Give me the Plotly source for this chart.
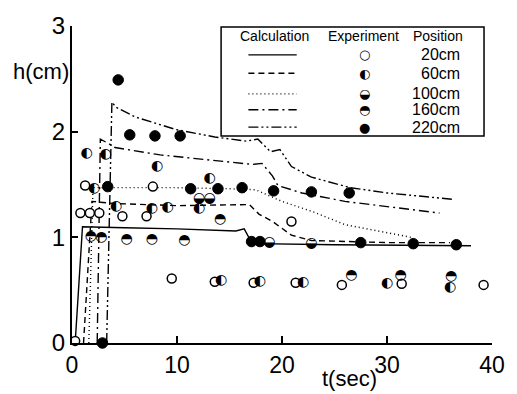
import plotly.graph_objects as go

# ---------------- data ----------------
positions = ["20cm", "60cm", "100cm", "160cm", "220cm"]

calc20_t = [0.3, 1.0, 5, 10, 15.6, 16.4, 17.0, 17.6, 25, 38]
calc20_h = [0, 1.10, 1.09, 1.08, 1.06, 1.08, 0.97, 0.94, 0.93, 0.92]

calc60_t = [1.1, 1.9, 4, 10, 16.9, 17.8, 19.1, 20.9, 22.8, 30, 36]
calc60_h = [0, 1.34, 1.32, 1.30, 1.31, 1.22, 1.15, 1.02, 0.97, 0.95, 0.95]

calc100_t = [1.6, 2.0, 5, 10, 15, 17.5, 20, 23, 26, 29.5, 32.3]
calc100_h = [0, 1.47, 1.47, 1.47, 1.46, 1.45, 1.34, 1.24, 1.12, 1.05, 1.0]

calc160_t = [2.4, 2.7, 3.6, 4.1, 8.4, 13.6, 17.2, 18.1, 19.1, 19.6, 21.9, 26, 30, 35]
calc160_h = [0, 1.93, 1.88, 1.85, 1.78, 1.73, 1.69, 1.70, 1.58, 1.49, 1.42, 1.34, 1.29, 1.23]

calc220_t = [3.3, 3.8, 4.2, 6.0, 9.9, 13.6, 16.6, 17.7, 18.9, 19.8, 20.9, 22.8, 26.5, 30, 36.2]
calc220_h = [0, 2.28, 2.23, 2.14, 2.02, 1.95, 1.91, 1.93, 1.81, 1.83, 1.67, 1.57, 1.47, 1.42, 1.36]

exp20_t = [0.3, 0.8, 1.25, 1.7, 2.6, 4.8, 7.1, 7.7, 20.9, 9.5, 13.6, 17.3, 21.3, 25.7, 31.4, 39.2]
exp20_h = [0.02, 1.23, 1.49, 1.23, 1.23, 1.20, 1.20, 1.48, 1.15, 0.61, 0.58, 0.57, 0.57, 0.55, 0.56, 0.55]

exp60_t = [1.4, 3.2, 8.1, 13.1, 2.1, 4.2, 7.6, 9.1, 12.1, 14.2, 17.9, 22.0, 30.0, 36.0]
exp60_h = [1.79, 1.78, 1.67, 1.56, 1.46, 1.29, 1.27, 1.28, 1.27, 0.59, 0.58, 0.57, 0.56, 0.53]

exp100_t = [12.1, 13.1, 18.8, 22.8]
exp100_h = [1.37, 1.37, 0.95, 0.94]

exp160_t = [1.8, 2.8, 5.2, 7.6, 10.7, 14.1, 26.6, 31.3, 36.1]
exp160_h = [1.01, 1.00, 0.98, 0.98, 0.97, 1.17, 0.64, 0.64, 0.63]

exp220_t = [4.4, 5.5, 7.9, 10.3, 3.4, 11.3, 13.9, 16.2, 19.2, 22.8, 26.4, 17.1, 17.9, 27.5, 32.5, 36.6, 2.9]
exp220_h = [2.49, 1.97, 1.96, 1.96, 1.48, 1.46, 1.46, 1.47, 1.44, 1.43, 1.42, 0.96, 0.96, 0.95, 0.94, 0.93, 0.0]

x_ticks = [0, 10, 20, 30, 40]
y_ticks = [0, 1, 2, 3]

# ---------------- styles ----------------
dashes = ["solid", "6px,4px", "1px,3px", "10px,4px,2px,4px", "10px,3px,2px,3px,2px,3px"]
glyphs = ["○", "◐", "◒", "◓", "●"]

calc = [(calc20_t, calc20_h), (calc60_t, calc60_h), (calc100_t, calc100_h),
        (calc160_t, calc160_h), (calc220_t, calc220_h)]

fig = go.Figure()
for (t, h), d in zip(calc, dashes):
    fig.add_trace(go.Scatter(x=t, y=h, mode="lines",
                             line=dict(color="black", width=1.4, dash=d),
                             cliponaxis=False, showlegend=False, hoverinfo="skip"))

# open / filled circles as markers
fig.add_trace(go.Scatter(x=exp20_t, y=exp20_h, mode="markers", cliponaxis=False,
                         marker=dict(symbol="circle", size=9, color="white",
                                     line=dict(color="black", width=1.5)),
                         showlegend=False))
fig.add_trace(go.Scatter(x=exp220_t, y=exp220_h, mode="markers", cliponaxis=False,
                         marker=dict(symbol="circle", size=10.5, color="black",
                                     line=dict(color="black", width=1)),
                         showlegend=False))
# half-filled circles as glyph text
for (t, h), g in zip([(exp60_t, exp60_h), (exp100_t, exp100_h), (exp160_t, exp160_h)],
                     glyphs[1:4]):
    fig.add_trace(go.Scatter(x=t, y=h, mode="text", text=[g] * len(t),
                             textposition="middle center", cliponaxis=False,
                             textfont=dict(family="DejaVu Sans", size=14, color="black"),
                             showlegend=False))

# ---------------- legend box (layout) ----------------
bx0, bx1, by0, by1 = 0.355, 0.981, 0.653, 0.997
shapes = [dict(type="rect", xref="paper", yref="paper", x0=bx0, x1=bx1, y0=by0, y1=by1,
               line=dict(color="black", width=1.5))]
annots = []
hdr_y = 0.967
for txt, xc in [("Calculation", 0.482), ("Experiment", 0.695), ("Position", 0.872)]:
    annots.append(dict(xref="paper", yref="paper", x=xc, y=hdr_y, text=txt, showarrow=False,
                       xanchor="center", yanchor="middle",
                       font=dict(family="Liberation Sans", size=14, color="black")))
row_y = [0.909, 0.851, 0.786, 0.736, 0.681]
for i, (pos, d, g) in enumerate(zip(positions, dashes, glyphs)):
    y = row_y[i]
    shapes.append(dict(type="line", xref="paper", yref="paper", x0=0.420, x1=0.535,
                       y0=y, y1=y, line=dict(color="black", width=1.4, dash=d)))
    annots.append(dict(xref="paper", yref="paper", x=0.697, y=y, text=g, showarrow=False,
                       xanchor="center", yanchor="middle",
                       font=dict(family="DejaVu Sans", size=13, color="black")))
    annots.append(dict(xref="paper", yref="paper", x=0.928, y=y, text=pos, showarrow=False,
                       xanchor="right", yanchor="middle",
                       font=dict(family="Liberation Sans", size=16, color="black")))

# axis titles
annots.append(dict(xref="paper", yref="paper", x=-0.145, y=0.855, text="h(cm)", showarrow=False,
                   xanchor="left", yanchor="middle",
                   font=dict(family="Liberation Sans", size=22, color="black")))
annots.append(dict(xref="paper", yref="paper", x=0.66, y=-0.113, text="t(sec)", showarrow=False,
                   xanchor="center", yanchor="middle",
                   font=dict(family="Liberation Sans", size=22, color="black")))

fig.update_layout(
    width=517, height=394,
    margin=dict(l=71.5, r=13, t=14, b=51),
    paper_bgcolor="white", plot_bgcolor="white",
    showlegend=False, shapes=shapes, annotations=annots,
    font=dict(family="Liberation Sans", color="black"),
)
fig.update_xaxes(range=[0, 40], tickvals=x_ticks, ticktext=[str(v) for v in x_ticks],
                 showline=True, linecolor="black", linewidth=2, ticks="inside",
                 ticklen=7, tickwidth=1.5, tickcolor="black", showgrid=False, zeroline=False,
                 tickfont=dict(size=23, family="Liberation Sans", color="black"))
fig.update_yaxes(range=[0, 3], tickvals=y_ticks, ticktext=[str(v) for v in y_ticks],
                 showline=True, linecolor="black", linewidth=2, ticks="inside",
                 ticklen=6, tickwidth=1.5, tickcolor="black", showgrid=False, zeroline=False,
                 tickfont=dict(size=24, family="Liberation Sans", color="black"))

fig.write_html("out.html")
